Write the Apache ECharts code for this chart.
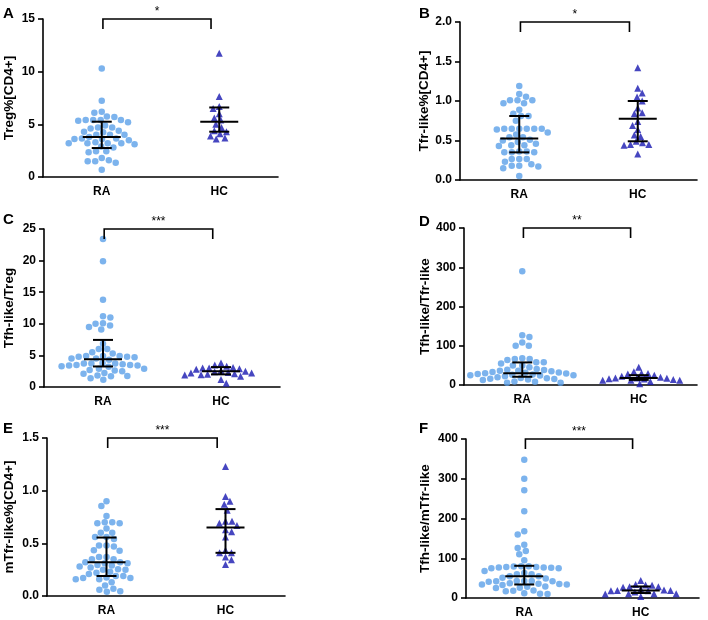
<!DOCTYPE html>
<html>
<head>
<meta charset="utf-8">
<script src="https://cdn.jsdelivr.net/npm/echarts@6/dist/echarts.min.js"></script>
<style>
    html, body {margin: 0; padding: 0; background: #fff;}
    #chart {width: 708px; height: 620px;}
</style>
</head>
<body>
<div id="chart"></div>
<script>
// groups and panel texts
var groups = ['RA', 'HC'];
var panelLetters = ['A', 'B', 'C', 'D', 'E', 'F'];
var yNames = ['Treg%[CD4+]', 'Tfr-like%[CD4+]', 'Tfh-like/Treg', 'Tfh-like/Tfr-like', 'mTfr-like%[CD4+]', 'Tfh-like/mTfr-like'];
var yMax = [15, 2, 25, 400, 1.5, 400];
var yStep = [5, 0.5, 5, 100, 0.5, 100];
var stars = ['*', '*', '***', '**', '***', '***'];

// A: Treg%[CD4+]
var raA = [10.3, 7.25, 6.2, 6.1, 5.75, 5.7, 5.4, 5.4, 5.4, 5.35, 5.4, 5.2, 4.9, 4.7, 4.7, 4.6, 4.4, 4.3, 4.25, 4.0, 4.0, 4.0, 3.8, 3.65, 3.65, 3.6, 3.6, 3.5, 3.3, 3.2, 3.2, 3.2, 3.2, 3.1, 2.9, 2.8, 2.45, 2.45, 2.35, 1.8, 1.5, 1.5, 1.6, 1.35, 0.7];
var hcA = [11.75, 7.65, 6.7, 6.5, 6.0, 5.6, 5.4, 5.0, 4.7, 4.4, 4.3, 4.1, 3.9, 3.7, 3.6];
// B: Tfr-like%[CD4+]
var raB = [1.19, 1.09, 1.055, 1.01, 1.01, 1.01, 0.97, 0.97, 0.89, 0.84, 0.81, 0.81, 0.75, 0.65, 0.65, 0.65, 0.65, 0.65, 0.65, 0.64, 0.6, 0.575, 0.54, 0.54, 0.51, 0.5, 0.48, 0.46, 0.44, 0.44, 0.43, 0.36, 0.36, 0.35, 0.35, 0.35, 0.265, 0.265, 0.265, 0.23, 0.2, 0.18, 0.18, 0.17, 0.15, 0.05];
var hcB = [1.42, 1.16, 1.1, 1.05, 1.0, 0.91, 0.85, 0.84, 0.74, 0.69, 0.64, 0.57, 0.55, 0.49, 0.47, 0.45, 0.45, 0.44, 0.33];
// C: Tfh-like/Treg
var raC = [23.4, 19.9, 13.8, 11.2, 11.0, 10.1, 10.0, 9.75, 9.5, 9.1, 6.85, 6.0, 6.0, 5.5, 5.3, 4.9, 4.9, 4.9, 4.8, 4.8, 4.7, 4.5, 4.5, 4.3, 3.8, 3.7, 3.7, 3.7, 3.6, 3.5, 3.5, 3.4, 3.4, 3.3, 3.2, 2.9, 2.9, 2.7, 2.6, 2.5, 2.2, 2.1, 1.8, 1.75, 1.7, 1.4, 1.15];
var hcC = [3.8, 3.5, 3.3, 3.1, 3.0, 3.0, 2.9, 2.8, 2.6, 2.5, 2.4, 2.3, 2.2, 2.2, 2.1, 2.0, 1.95, 1.9, 1.7, 1.2, 0.6];
// D: Tfh-like/Tfr-like
var raD = [290, 127, 122, 108, 100, 100, 68, 66, 66, 64, 58, 58, 55, 50, 50, 45, 41, 39, 38, 36, 36, 35, 33, 32, 31, 30, 29, 28, 27, 26, 25, 25, 24, 22, 20, 18, 17, 16, 15, 14, 13, 9, 8, 6, 6];
var hcD = [45, 34, 30, 29, 28, 25, 22, 20, 18, 18, 17, 16, 15, 14, 12, 12, 12, 9, 3];
// E: mTfr-like%[CD4+]
var raE = [0.9, 0.855, 0.76, 0.7, 0.7, 0.69, 0.69, 0.64, 0.6, 0.6, 0.56, 0.56, 0.54, 0.48, 0.48, 0.47, 0.435, 0.43, 0.37, 0.37, 0.35, 0.35, 0.32, 0.32, 0.31, 0.31, 0.295, 0.29, 0.28, 0.27, 0.255, 0.25, 0.25, 0.23, 0.22, 0.21, 0.19, 0.19, 0.175, 0.17, 0.17, 0.16, 0.16, 0.13, 0.1, 0.07, 0.06, 0.045, 0.04];
var hcE = [1.23, 0.945, 0.9, 0.87, 0.815, 0.71, 0.71, 0.69, 0.67, 0.63, 0.61, 0.56, 0.435, 0.41, 0.41, 0.37, 0.345, 0.3];
// F: Tfh-like/mTfr-like
var raF = [348, 300, 271, 218, 168, 160, 134, 126, 118, 110, 95, 80, 80, 79, 78, 78, 77, 77, 76, 75, 75, 68, 63, 60, 60, 55, 55, 51, 49, 43, 43, 43, 42, 42, 41, 37, 36, 35, 34, 34, 33, 29, 28, 26, 25, 19, 18, 17, 12, 11, 10];
var hcF = [44, 34, 33, 32, 28, 28, 27, 22, 20, 19, 19, 18, 18, 15, 11, 11, 11, 10, 4];

// median, Q1, Q3 per panel
var raStats = [[3.8, 2.75, 5.25], [0.525, 0.35, 0.81], [4.4, 3.25, 7.45], [30, 21, 57.5], [0.32, 0.19, 0.555], [54.5, 34, 81]];
var hcStats = [[5.25, 4.3, 6.6], [0.775, 0.49, 1.0], [2.5, 2.0, 3.15], [18, 13, 25], [0.65, 0.41, 0.825], [19, 12.5, 29]];

var raAll = [raA, raB, raC, raD, raE, raF];
var hcAll = [hcA, hcB, hcC, hcD, hcE, hcF];

// layout
var grids = [
    {left: 43, top: 19, width: 235, height: 158},
    {left: 460, top: 22, width: 237, height: 158},
    {left: 44, top: 229, width: 236, height: 158},
    {left: 464, top: 228, width: 233, height: 157},
    {left: 47, top: 438, width: 238, height: 158},
    {left: 466, top: 439, width: 233, height: 159}
];
var nameGaps = [27, 26, 28, 32, 31, 34];
var letterPos = [[3, 6], [419, 6], [3, 212], [419, 214], [3, 421], [419, 421]];
var FONT = 'Liberation Sans, Arial, sans-serif';
var raColor = '#5ba0e9';
var hcColor = '#1818b0';

// beeswarm in pixel space; markers treated as ellipses (w wide, h high) so rows spread a bit
function swarm(values, center, pxX, pxY, w, h) {
    var order = values.map(function (v, i) { return i; });
    order.sort(function (a, b) { return values[b] - values[a]; });
    var placed = [];
    var out = [];
    order.forEach(function (i, n) {
        var y = values[i] * pxY;
        var cands = [0];
        placed.forEach(function (p) {
            var dy = Math.abs(p.y - y);
            if (dy < h) {
                var dx = w * Math.sqrt(1 - (dy / h) * (dy / h));
                cands.push(p.x + dx, p.x - dx);
            }
        });
        var sign = n % 2 ? 1 : -1;
        cands.sort(function (a, b) {
            var diff = Math.abs(a) - Math.abs(b);
            if (Math.abs(diff) < 0.01) return sign * (a - b);
            return diff;
        });
        var x = 0;
        for (var k = 0; k < cands.length; k++) {
            var ok = placed.every(function (p) {
                var dx = (p.x - cands[k]) / w, dy = (p.y - y) / h;
                return dx * dx + dy * dy >= 0.999;
            });
            if (ok) { x = cands[k]; break; }
        }
        placed.push({x: x, y: y});
        out.push([center + x / pxX, values[i]]);
    });
    return out;
}

function errorBarItem(params, api) {
    var x = api.value(0);
    var m = api.coord([x, api.value(1)]);
    var lo = api.coord([x, api.value(2)]);
    var hi = api.coord([x, api.value(3)]);
    var st = {stroke: '#000', lineWidth: 2};
    return {
        type: 'group',
        children: [
            {type: 'line', shape: {x1: m[0] - 19, y1: m[1], x2: m[0] + 19, y2: m[1]}, style: st},
            {type: 'line', shape: {x1: lo[0], y1: lo[1], x2: hi[0], y2: hi[1]}, style: st},
            {type: 'line', shape: {x1: lo[0] - 10, y1: lo[1], x2: lo[0] + 10, y2: lo[1]}, style: st},
            {type: 'line', shape: {x1: hi[0] - 10, y1: hi[1], x2: hi[0] + 10, y2: hi[1]}, style: st}
        ]
    };
}

function bracketItem(params, api) {
    var a = api.coord([api.value(0), api.value(2)]);
    var b = api.coord([api.value(1), api.value(2)]);
    return {
        type: 'group',
        children: [
            {
                type: 'polyline',
                shape: {points: [[a[0], a[1] + 10], [a[0], a[1]], [b[0], b[1]], [b[0], b[1] + 10]]},
                style: {stroke: '#000', lineWidth: 1.6, fill: null}
            },
            {
                type: 'text',
                style: {
                    text: stars[api.value(3)],
                    x: (a[0] + b[0]) / 2, y: a[1] - 1,
                    align: 'center', verticalAlign: 'bottom',
                    font: '12px ' + FONT, fill: '#000'
                }
            }
        ]
    };
}

var option = {
    animation: false,
    backgroundColor: '#fff',
    grid: [], xAxis: [], yAxis: [], series: [], graphic: []
};

grids.forEach(function (g, k) {
    option.grid.push({left: g.left, top: g.top, width: g.width, height: g.height, containLabel: false, outerBoundsMode: 'none'});
    option.xAxis.push({
        gridIndex: k, type: 'value', min: 0.5, max: 2.5, interval: 0.5,
        axisLine: {lineStyle: {color: '#000', width: 1.6}},
        axisTick: {show: false},
        splitLine: {show: false},
        axisLabel: {
            color: '#000', fontWeight: 'bold', fontSize: 12, fontFamily: FONT, margin: 9,
            formatter: function (v) { return v === 1 ? groups[0] : (v === 2 ? groups[1] : ''); }
        }
    });
    var dec = yStep[k] < 1 ? 1 : 0;
    option.yAxis.push({
        gridIndex: k, type: 'value', min: 0, max: yMax[k], interval: yStep[k],
        name: yNames[k], nameLocation: 'middle', nameGap: nameGaps[k],
        nameTextStyle: {color: '#000', fontWeight: 'bold', fontSize: 13.5, fontFamily: FONT},
        axisLine: {show: true, lineStyle: {color: '#000', width: 1.6}},
        axisTick: {show: true, length: 5, lineStyle: {color: '#000', width: 1.6}},
        splitLine: {show: false},
        axisLabel: {
            color: '#000', fontWeight: 'bold', fontSize: 12, fontFamily: FONT, margin: 8,
            formatter: function (v) { return v.toFixed(dec); }
        }
    });
    var pxX = g.width / 2, pxY = g.height / yMax[k];
    option.series.push({
        type: 'scatter', xAxisIndex: k, yAxisIndex: k,
        symbol: 'circle', symbolSize: 6.5,
        itemStyle: {color: raColor},
        data: swarm(raAll[k], 1, pxX, pxY, 7.5, 6.5)
    });
    option.series.push({
        type: 'scatter', xAxisIndex: k, yAxisIndex: k,
        symbol: 'triangle', symbolSize: 7,
        itemStyle: {color: hcColor},
        data: swarm(hcAll[k], 2, pxX, pxY, 6.5, 6.5)
    });
    option.series.push({
        type: 'custom', xAxisIndex: k, yAxisIndex: k, z: 5,
        renderItem: errorBarItem,
        data: [[1].concat(raStats[k]), [2].concat(hcStats[k])]
    });
    option.series.push({
        type: 'custom', xAxisIndex: k, yAxisIndex: k, z: 5, clip: false,
        renderItem: bracketItem,
        data: [[1.01, 1.93, yMax[k], k]]
    });
    option.graphic.push({
        type: 'text', left: letterPos[k][0], top: letterPos[k][1],
        style: {text: panelLetters[k], font: 'bold 15px ' + FONT, fill: '#000'}
    });
});

var chart = echarts.init(document.getElementById('chart'));
chart.setOption(option);
</script>
</body>
</html>
